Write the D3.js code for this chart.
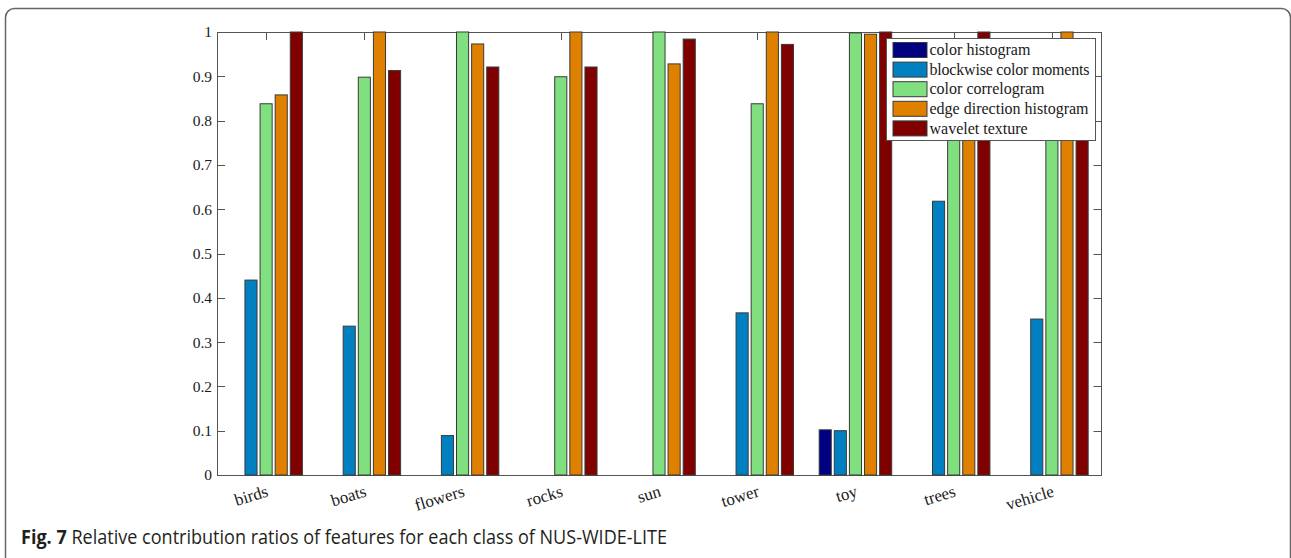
<!DOCTYPE html>
<html>
<head>
<meta charset="utf-8">
<script src="https://cdn.jsdelivr.net/npm/d3@7"></script>
<style>
  body { margin: 0; background: #fff; }
  svg { display: block; }
</style>
</head>
<body>
<div id="chart"></div>
<script>
const categories = ['birds', 'boats', 'flowers', 'rocks', 'sun', 'tower', 'toy', 'trees', 'vehicle'];
const seriesNames = ['color histogram', 'blockwise color moments', 'color correlogram', 'edge direction histogram', 'wavelet texture'];
const colorHistogram = [0, 0, 0, 0, 0, 0, 0.102, 0, 0];
const blockwiseColorMoments = [0.440, 0.336, 0.089, 0, 0, 0.366, 0.100, 0.618, 0.352];
const colorCorrelogram = [0.838, 0.898, 1.0, 0.899, 1.0, 0.838, 0.998, 0.92, 0.93];
const edgeDirectionHistogram = [0.858, 1.0, 0.973, 1.0, 0.928, 1.0, 0.995, 0.96, 1.0];
const waveletTexture = [1.0, 0.913, 0.921, 0.921, 0.984, 0.972, 1.0, 1.0, 0.95];
const yTicks = [0, 0.1, 0.2, 0.3, 0.4, 0.5, 0.6, 0.7, 0.8, 0.9, 1];

const series = [colorHistogram, blockwiseColorMoments, colorCorrelogram, edgeDirectionHistogram, waveletTexture];
const barColors = ['#000080', '#0080c0', '#80e080', '#e08000', '#800000'];

const width = 1291, height = 558;
const plot = { left: 217, right: 1101, top: 32, bottom: 475 };
const serif = '"Liberation Serif", "Times New Roman", serif';

const svg = d3.select('#chart').append('svg')
    .attr('width', width)
    .attr('height', height);

// cadre arrondi de la figure
svg.append('rect')
    .attr('x', 5.5).attr('y', 8.5)
    .attr('width', 1285).attr('height', 620)
    .attr('rx', 9)
    .style('fill', 'none')
    .style('stroke', '#666')
    .style('stroke-width', 1.5);

// échelles
const x = d3.scaleBand()
    .domain(categories)
    .range([plot.left, plot.right]);

const groupWidth = x.bandwidth() * 5 / 6.5;
const xInner = d3.scaleBand()
    .domain(seriesNames)
    .range([-groupWidth / 2, groupWidth / 2])
    .paddingInner(0.2)
    .paddingOuter(0.1);

const y = d3.scaleLinear()
    .domain([0, 1])
    .range([plot.bottom, plot.top]);

// axes (sous les barres, comme dans matlab)
const axes = svg.append('g').style('font-family', serif).style('font-size', '15.5px');

axes.append('rect')
    .attr('x', plot.left + 0.5).attr('y', plot.top + 0.5)
    .attr('width', plot.right - plot.left).attr('height', plot.bottom - plot.top)
    .style('fill', 'none')
    .style('stroke', '#555')
    .style('stroke-width', 1);

const tickLen = 8;
yTicks.forEach(t => {
    const yy = Math.round(y(t)) + 0.5;
    axes.append('line')
        .attr('x1', plot.left).attr('x2', plot.left + tickLen)
        .attr('y1', yy).attr('y2', yy)
        .style('stroke', '#555');
    axes.append('line')
        .attr('x1', plot.right + 0.5).attr('x2', plot.right + 0.5 - tickLen)
        .attr('y1', yy).attr('y2', yy)
        .style('stroke', '#555');
    axes.append('text')
        .attr('x', plot.left - 5)
        .attr('y', y(t))
        .attr('dy', '0.35em')
        .style('text-anchor', 'end')
        .style('fill', '#1a1a1a')
        .text(t);
});

categories.forEach(c => {
    const xx = Math.round(x(c) + x.bandwidth() / 2) + 0.5;
    axes.append('line')
        .attr('x1', xx).attr('x2', xx)
        .attr('y1', plot.top).attr('y2', plot.top + tickLen)
        .style('stroke', '#555');
    axes.append('line')
        .attr('x1', xx).attr('x2', xx)
        .attr('y1', plot.bottom).attr('y2', plot.bottom - tickLen)
        .style('stroke', '#555');
});

// barres groupées
const groups = svg.append('g')
    .selectAll('g')
    .data(categories)
    .enter()
    .append('g')
    .attr('transform', c => `translate(${x(c) + x.bandwidth() / 2},0)`);

groups.selectAll('rect')
    .data((c, ci) => seriesNames.map((s, si) => ({ s, si, v: series[si][ci] })))
    .enter()
    .filter(d => d.v > 0)
    .append('rect')
    .attr('x', d => xInner(d.s))
    .attr('width', xInner.bandwidth())
    .attr('y', d => y(d.v))
    .attr('height', d => y(0) - y(d.v))
    .style('fill', d => barColors[d.si])
    .style('stroke', '#3a3a3a')
    .style('stroke-width', 1);

// étiquettes inclinées
svg.append('g')
    .selectAll('text')
    .data(categories)
    .enter()
    .append('text')
    .attr('transform', c => `translate(${x(c) + x.bandwidth() / 2 + 3},${plot.bottom + 21}) rotate(-17)`)
    .style('text-anchor', 'end')
    .style('font-family', serif)
    .style('font-size', '17px')
    .style('fill', '#1a1a1a')
    .text(c => c);

// légende
const legend = svg.append('g').attr('transform', 'translate(886.5,38.5)');
legend.append('rect')
    .attr('width', 209).attr('height', 102)
    .style('fill', '#fff')
    .style('stroke', '#555');

seriesNames.forEach((s, i) => {
    const cy = 11.5 + i * 19.6;
    legend.append('rect')
        .attr('x', 6.5).attr('y', cy - 7.5)
        .attr('width', 34).attr('height', 15)
        .style('fill', barColors[i])
        .style('stroke', '#3a3a3a');
    legend.append('text')
        .attr('x', 43)
        .attr('y', cy)
        .attr('dy', '0.33em')
        .attr('textLength', i === 1 ? 160 : null)
        .style('font-family', serif)
        .style('font-size', '16px')
        .style('fill', '#1a1a1a')
        .text(s);
});

// légende de la figure
const caption = svg.append('text')
    .attr('x', 21)
    .attr('y', 544)
    .style('font-family', '"Open Sans", "Noto Sans", sans-serif')
    .style('font-size', '19.5px')
    .style('fill', '#231f20');
caption.append('tspan').style('font-weight', 'bold').text('Fig. 7');
caption.append('tspan').text(' Relative contribution ratios of features for each class of NUS-WIDE-LITE');

// largeur cible du texte (police plus étroite dans l'original)
caption.attr('textLength', 646).attr('lengthAdjust', 'spacingAndGlyphs');
</script>
</body>
</html>
